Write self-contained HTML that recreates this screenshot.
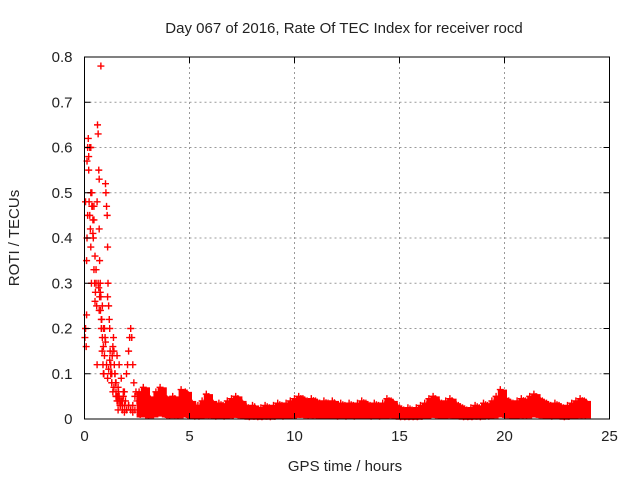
<!DOCTYPE html>
<html><head><meta charset="utf-8"><style>
body{margin:0;background:#fff;}
svg text{font-family:"Liberation Sans",sans-serif;font-size:15px;fill:#222;}
</style></head><body>
<svg id="chart" width="640" height="480" viewBox="0 0 640 480">
<text x="344" y="33" text-anchor="middle">Day 067 of 2016, Rate Of TEC Index for receiver rocd</text>
<text x="345" y="471" text-anchor="middle">GPS time / hours</text>
<text x="19" y="238" text-anchor="middle" transform="rotate(-90 19 238)">ROTI / TECUs</text>
<g id="grid"></g><g id="marks"></g><g id="axes"></g>
</svg>
<script>
const xTicks=[0,5,10,15,20,25];
const yTicks=[0,0.1,0.2,0.3,0.4,0.5,0.6,0.7,0.8];
const earlyT=[0.02,0.05,0.08,0.1,0.12,0.15,0.18,0.2,0.22,0.25,0.28,0.3,0.33,0.35,0.38,0.4,0.42,0.45,0.48,0.5,0.52,0.55,0.58,0.6,0.62,0.65,0.68,0.7,0.72,0.75,0.78,0.8,0.82,0.85,0.88,0.9,0.92,0.95,0.98,1.0,1.02,1.05,1.08,1.1,1.12,1.15,1.18,1.2,1.22,1.25,1.28,1.3,1.32,1.35,1.38,1.4,1.42,1.45,1.48,1.5,1.52,1.55,1.58,1.6,1.62,1.65,1.68,1.7,1.75,1.8,1.85,1.9,1.95,2.0,2.05,2.1,2.15,2.2,2.25,2.3,2.35,2.4,2.45,2.5,0.1,0.15,0.2,0.25,0.3,0.35,0.4,0.45,0.5,0.55,0.6,0.65,0.7,0.75,0.8,0.85,0.9,0.95,1.0,1.05,1.1,1.15,1.2,1.25,1.3,1.35,1.4,1.5,1.6,1.7,1.8,1.9,2.0,2.1,2.2,2.3,0.78,0.05,0.12,0.3,0.45,0.7,0.9,1.1,1.3,1.5,1.6,1.7,1.8,1.9,2.0,2.1,2.2,2.3,2.4,1.45,1.55,1.65,1.75,1.85,0.68,0.72,0.76,0.84,0.92];
const earlyV=[0.18,0.2,0.16,0.35,0.4,0.6,0.62,0.58,0.48,0.45,0.42,0.38,0.3,0.5,0.47,0.44,0.4,0.33,0.3,0.26,0.28,0.3,0.25,0.12,0.65,0.63,0.55,0.42,0.35,0.3,0.27,0.2,0.22,0.25,0.12,0.1,0.1,0.14,0.18,0.52,0.5,0.47,0.45,0.38,0.3,0.25,0.22,0.2,0.15,0.12,0.1,0.08,0.14,0.16,0.18,0.15,0.12,0.1,0.08,0.06,0.05,0.04,0.05,0.07,0.06,0.05,0.04,0.03,0.04,0.03,0.05,0.06,0.04,0.1,0.12,0.15,0.18,0.2,0.18,0.12,0.08,0.05,0.06,0.04,0.23,0.45,0.55,0.6,0.5,0.47,0.41,0.44,0.36,0.33,0.48,0.3,0.24,0.28,0.22,0.18,0.16,0.2,0.17,0.12,0.09,0.11,0.13,0.1,0.08,0.06,0.07,0.05,0.04,0.03,0.04,0.03,0.02,0.03,0.02,0.03,0.78,0.48,0.57,0.6,0.47,0.53,0.2,0.27,0.1,0.08,0.02,0.03,0.02,0.015,0.02,0.03,0.02,0.015,0.02,0.1,0.14,0.12,0.09,0.06,0.29,0.27,0.24,0.15,0.1];
const tailStart=2.6, tailStep=0.2;
const tailHi=[0.06,0.07,0.05,0.04,0.06,0.07,0.05,0.04,0.05,0.04,0.065,0.06,0.04,0.03,0.03,0.04,0.055,0.04,0.03,0.035,0.03,0.04,0.045,0.05,0.04,0.03,0.025,0.03,0.02,0.025,0.03,0.025,0.03,0.035,0.03,0.035,0.04,0.045,0.05,0.045,0.04,0.045,0.04,0.035,0.04,0.035,0.04,0.03,0.035,0.03,0.035,0.03,0.035,0.04,0.035,0.03,0.035,0.03,0.035,0.045,0.04,0.03,0.025,0.02,0.025,0.02,0.025,0.03,0.035,0.045,0.05,0.04,0.035,0.04,0.045,0.035,0.03,0.025,0.02,0.025,0.03,0.025,0.035,0.03,0.04,0.05,0.065,0.045,0.04,0.035,0.04,0.045,0.04,0.05,0.055,0.045,0.04,0.035,0.03,0.035,0.03,0.025,0.03,0.035,0.04,0.045,0.04];
const tailMid=[0.03,0.035,0.03,0.025,0.03,0.04,0.03,0.025,0.03,0.025,0.035,0.03,0.025,0.02,0.018,0.022,0.03,0.025,0.018,0.02,0.018,0.022,0.025,0.03,0.022,0.018,0.015,0.018,0.012,0.015,0.018,0.015,0.018,0.02,0.018,0.02,0.022,0.025,0.028,0.025,0.022,0.025,0.022,0.02,0.022,0.02,0.022,0.018,0.02,0.018,0.02,0.018,0.02,0.022,0.02,0.018,0.02,0.018,0.02,0.025,0.022,0.018,0.015,0.012,0.015,0.012,0.015,0.018,0.02,0.025,0.028,0.022,0.02,0.022,0.025,0.02,0.018,0.015,0.012,0.015,0.018,0.015,0.02,0.018,0.022,0.028,0.035,0.025,0.022,0.02,0.022,0.025,0.022,0.028,0.03,0.025,0.022,0.02,0.018,0.02,0.018,0.015,0.018,0.02,0.022,0.025,0.022];
const tailLo=[0.01,0.012,0.008,0.01,0.012,0.015,0.01,0.008,0.01,0.008,0.012,0.01,0.008,0.006,0.006,0.008,0.01,0.008,0.006,0.007,0.006,0.008,0.009,0.01,0.008,0.006,0.005,0.006,0.005,0.005,0.006,0.005,0.006,0.007,0.006,0.007,0.008,0.009,0.01,0.009,0.008,0.009,0.008,0.007,0.008,0.007,0.008,0.006,0.007,0.006,0.007,0.006,0.007,0.008,0.007,0.006,0.007,0.006,0.007,0.009,0.008,0.006,0.005,0.005,0.005,0.005,0.005,0.006,0.007,0.009,0.01,0.008,0.007,0.008,0.009,0.007,0.006,0.005,0.005,0.005,0.006,0.005,0.007,0.006,0.008,0.01,0.012,0.009,0.008,0.007,0.008,0.009,0.008,0.01,0.011,0.009,0.008,0.007,0.006,0.007,0.006,0.005,0.006,0.007,0.008,0.009,0.008];
const L=84.5,R=609.5,T=57,B=419;
const X=v=>L+(v-0)/(25-0)*(R-L);
const Y=v=>B-(v-0)/(0.8-0)*(B-T);
const NS='http://www.w3.org/2000/svg';
function mk(tag,parent,attrs){const e=document.createElementNS(NS,tag);for(const k in attrs)e.setAttribute(k,attrs[k]);parent.appendChild(e);return e;}
const grid=document.getElementById('grid'),marks=document.getElementById('marks'),axes=document.getElementById('axes');
xTicks.forEach(t=>{
 const x=X(t);
 if(t>0&&t<25){const g=mk('line',grid,{x1:x,x2:x,y1:T,y2:B,stroke:'#999','stroke-dasharray':'2,3','stroke-width':1});
 
 }
 mk('line',axes,{x1:x,x2:x,y1:B,y2:B-6,stroke:'#000'});
 mk('line',axes,{x1:x,x2:x,y1:T,y2:T+6,stroke:'#000'});
 const tx=mk('text',axes,{x:x,y:B+22,'text-anchor':'middle'});tx.textContent=t;
 
 
});
yTicks.forEach(t=>{
 const y=Y(t);
 if(t>0&&t<0.8){const g=mk('line',grid,{x1:L,x2:R,y1:y,y2:y,stroke:'#999','stroke-dasharray':'2,3','stroke-width':1});
 
 }
 mk('line',axes,{x1:L,x2:L+6,y1:y,y2:y,stroke:'#000'});
 mk('line',axes,{x1:R,x2:R-6,y1:y,y2:y,stroke:'#000'});
 const tx=mk('text',axes,{x:L-12,y:y+5,'text-anchor':'end'});tx.textContent=(t===0?'0':t.toFixed(1));
 
 
});
const frame=mk('rect',axes,{x:L,y:T,width:R-L,height:B-T,fill:'none',stroke:'#000','stroke-width':1});


function plus(t,v){const x=X(t),y=Y(v);
 const p=mk('path',marks,{d:`M${x-3.5},${y}h7M${x},${y-3.5}v7`,stroke:'#f00','stroke-width':1.4,fill:'none'});
 
 }
earlyT.forEach((t,i)=>plus(t,earlyV[i]));
tailHi.forEach((v,i)=>{
 const t=tailStart+i*tailStep;
 const band=mk('rect',marks,{x:X(t)-2.5,y:Y(v),width:(X(tailStep)-X(0))+5,height:Y(tailLo[i])-Y(v)+3,fill:'#f00'});
 
 
 plus(t,v);
 plus(t+0.1,tailMid[i]);
 plus(t+0.1,v*0.9);
});
tailLo.forEach((v,i)=>plus(tailStart+i*tailStep+0.05,v));
</script>
</body></html>
